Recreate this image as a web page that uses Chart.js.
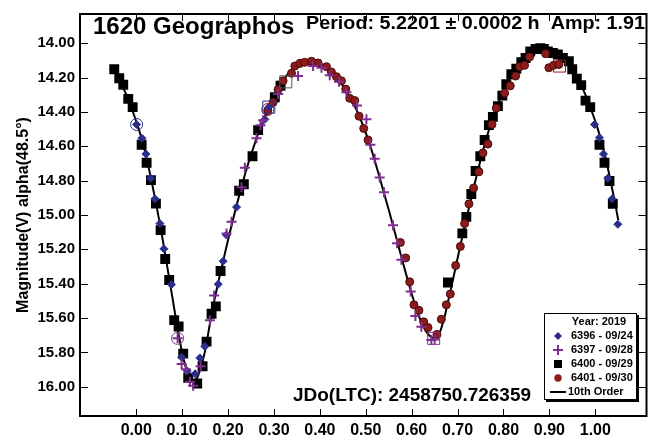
<!DOCTYPE html>
<html><head><meta charset="utf-8">
<script src="https://cdn.jsdelivr.net/npm/chart.js@4.4.0/dist/chart.umd.min.js"></script>
<style>html,body{margin:0;padding:0;background:#fff}#wrap{width:656px;height:436px}</style>
</head><body><div id="wrap"><canvas id="c" width="656" height="436"></canvas></div>
<script>
// ---- data ----
const titleText = '1620 Geographos';
const periodText = 'Period: 5.2201 \u00b1 0.0002 h  Amp: 1.91';
const jdText = 'JDo(LTC): 2458750.726359';
const yTitle = 'Magnitude(V) alpha(48.5\u00b0)';
const legendTitle = 'Year: 2019';
const seriesLabels = ['6396 - 09/24', '6397 - 09/28', '6400 - 09/29', '6401 - 09/30', '10th Order'];

const xTicks = [0.0, 0.1, 0.2, 0.3, 0.4, 0.5, 0.6, 0.7, 0.8, 0.9, 1.0];
const yTicks = [14.0, 14.2, 14.4, 14.6, 14.8, 15.0, 15.2, 15.4, 15.6, 15.8, 16.0];

const s6396X = [0.0009,0.0124,0.0211,0.0313,0.0407,0.0516,0.0603,0.0766,0.0988,0.1110,0.1284,0.1386,0.1495,0.1785,0.1893,0.1967,0.2185,0.2801,0.2888,0.9983,1.0091,1.0178,1.0272,1.0368,1.0490];
const s6396Y = [14.473,14.553,14.645,14.786,14.906,15.050,15.197,15.405,15.828,15.908,15.924,15.832,15.765,15.403,15.269,15.117,14.954,14.443,14.372,14.473,14.550,14.645,14.786,14.906,15.054];

const s6397X = [0.0901,0.0988,0.1082,0.1169,0.1240,0.1402,0.1604,0.1697,0.1967,0.2076,0.2294,0.2366,0.2620,0.2707,0.2764,0.3090,0.3525,0.3852,0.4035,0.4215,0.4418,0.4579,0.4810,0.5014,0.5101,0.5195,0.5304,0.5397,0.5593,0.5680,0.5776,0.5978,0.6081,0.6211,0.6429,0.6500];
const s6397Y = [15.718,15.867,15.898,15.970,15.994,15.880,15.612,15.469,15.107,15.040,14.839,14.725,14.553,14.477,14.448,14.295,14.191,14.133,14.143,14.187,14.225,14.286,14.362,14.443,14.591,14.672,14.782,14.868,15.059,15.164,15.260,15.446,15.588,15.651,15.727,15.725];

const s6400X = [-0.0479,-0.0370,-0.0283,-0.0174,-0.0078,0.0118,0.0226,0.0320,0.0429,0.0531,0.0631,0.0718,0.0827,0.0923,0.1023,0.1132,0.1328,0.1445,0.1532,0.1641,0.1734,0.1837,0.2242,0.2344,0.2533,0.2655,0.3019,0.3143,0.6790,0.7103,0.7190,0.7299,0.7393,0.7495,0.7589,0.7682,0.7769,0.7878,0.7974,0.8061,0.8170,0.8279,0.8388,0.8481,0.8583,0.8699,0.8801,0.8879,0.8966,0.9075,0.9184,0.9293,0.9423,0.9497,0.9597,0.9693,0.9787,0.9889,1.0091,1.0200,1.0309,1.0381];
const s6400Y = [14.152,14.204,14.242,14.324,14.372,14.591,14.696,14.797,14.934,15.088,15.256,15.378,15.612,15.649,15.807,15.947,15.981,15.880,15.737,15.575,15.532,15.326,14.859,14.821,14.658,14.506,14.315,14.248,15.393,15.107,15.011,14.878,14.744,14.658,14.563,14.477,14.429,14.366,14.305,14.238,14.181,14.149,14.111,14.086,14.048,14.034,14.029,14.034,14.048,14.057,14.066,14.086,14.105,14.152,14.206,14.244,14.334,14.372,14.591,14.696,14.802,14.935];

const s6401X = [0.2866,0.2982,0.3090,0.3199,0.3382,0.3454,0.3563,0.3671,0.3817,0.3961,0.4144,0.4252,0.4361,0.4470,0.4564,0.4651,0.4760,0.4853,0.4955,0.5049,0.5754,0.5869,0.5957,0.6050,0.6159,0.6261,0.6355,0.6551,0.6646,0.6755,0.6842,0.6958,0.7060,0.7153,0.7247,0.7349,0.7465,0.7552,0.7660,0.7748,0.7843,0.8024,0.8148,0.8263,0.8350,0.8459,0.8568,0.8916,0.8988,0.9090,0.9206];
const s6401Y = [14.392,14.344,14.270,14.219,14.175,14.133,14.118,14.111,14.105,14.115,14.137,14.168,14.195,14.219,14.267,14.321,14.334,14.425,14.496,14.563,15.160,15.250,15.389,15.523,15.555,15.622,15.655,15.695,15.607,15.523,15.460,15.294,15.183,15.050,14.935,14.843,14.748,14.639,14.587,14.473,14.378,14.290,14.248,14.191,14.137,14.129,14.080,14.061,14.143,14.129,14.124];

// first point of each session (open markers)
const start6396X = [0.0009, 0.2888];
const start6396Y = [14.473, 14.372];
const start6397X = [0.0901, 0.6479];
const start6397Y = [15.718, 15.718];
const start6400X = [0.3258];
const start6400Y = [14.225];
const start6401X = [0.2866, 0.9221];
const start6401Y = [14.386, 14.133];

const fitX = [-0.05,-0.04,-0.03,-0.02,-0.01,0.00,0.01,0.02,0.03,0.04,0.05,0.06,0.07,0.08,0.09,0.10,0.11,0.12,0.13,0.14,0.15,0.16,0.17,0.18,0.19,0.20,0.21,0.22,0.23,0.24,0.25,0.26,0.27,0.28,0.29,0.30,0.31,0.32,0.33,0.34,0.35,0.36,0.37,0.38,0.39,0.40,0.41,0.42,0.43,0.44,0.45,0.46,0.47,0.48,0.49,0.50,0.51,0.52,0.53,0.54,0.55,0.56,0.57,0.58,0.59,0.60,0.61,0.62,0.63,0.64,0.65,0.66,0.67,0.68,0.69,0.70,0.71,0.72,0.73,0.74,0.75,0.76,0.77,0.78,0.79,0.80,0.81,0.82,0.83,0.84,0.85,0.86,0.87,0.88,0.89,0.90,0.91,0.92,0.93,0.94,0.95,0.96,0.97,0.98,0.99,1.00,1.01,1.02,1.03,1.04,1.05];
const fitY = [14.145,14.195,14.250,14.310,14.380,14.455,14.540,14.640,14.760,14.890,15.030,15.180,15.340,15.500,15.660,15.800,15.905,15.960,15.960,15.895,15.790,15.640,15.500,15.375,15.260,15.145,15.035,14.930,14.830,14.735,14.650,14.570,14.495,14.430,14.370,14.315,14.265,14.220,14.180,14.150,14.130,14.118,14.110,14.107,14.110,14.118,14.132,14.152,14.178,14.210,14.248,14.290,14.336,14.390,14.452,14.522,14.600,14.688,14.780,14.875,14.970,15.068,15.168,15.268,15.365,15.458,15.545,15.618,15.672,15.705,15.715,15.690,15.610,15.495,15.375,15.252,15.130,15.012,14.898,14.788,14.680,14.580,14.490,14.410,14.340,14.278,14.222,14.172,14.130,14.095,14.067,14.046,14.034,14.030,14.033,14.042,14.055,14.070,14.088,14.112,14.145,14.195,14.250,14.310,14.380,14.455,14.540,14.640,14.760,14.890,15.030];

// ---- styles ----
const NAVY = '#2B2F8C', PURPLE = '#7E2E90', RED = '#8E1B1B', REDB = '#4A0A0A', BLACK = '#000000';
const FONT = '"Liberation Sans", Arial, Helvetica, sans-serif';

const pts = (xs, ys) => xs.map((v, i) => ({x: v, y: ys[i]}));

const datasets = [
  {label: seriesLabels[1], data: pts(s6397X, s6397Y), pointStyle: 'cross', radius: 5, borderColor: PURPLE, borderWidth: 2, backgroundColor: PURPLE, order: 1},
  {label: seriesLabels[0], data: pts(s6396X, s6396Y), pointStyle: 'rectRot', radius: 4, borderColor: NAVY, borderWidth: 1, backgroundColor: NAVY, order: 2},
  {label: seriesLabels[3], data: pts(s6401X, s6401Y), pointStyle: 'circle', radius: 4, borderColor: REDB, borderWidth: 1, backgroundColor: RED, order: 3},
  {label: seriesLabels[2], data: pts(s6400X, s6400Y), pointStyle: 'rect', radius: 7, borderColor: BLACK, borderWidth: 0, backgroundColor: BLACK, order: 4},
  {label: 'start 6396', data: pts(start6396X, start6396Y), pointStyle: ['circle', 'rect'], radius: [6, 8.5], borderColor: NAVY, borderWidth: 1, backgroundColor: 'rgba(0,0,0,0)', order: 0},
  {label: 'start 6397', data: pts(start6397X, start6397Y), pointStyle: ['circle', 'rect'], radius: [6, 8.5], borderColor: PURPLE, borderWidth: 1, backgroundColor: 'rgba(0,0,0,0)', order: 0},
  {label: 'start 6400', data: pts(start6400X, start6400Y), pointStyle: 'rect', radius: 8.5, borderColor: '#555', borderWidth: 1, backgroundColor: 'rgba(0,0,0,0)', order: 0},
  {label: 'start 6401', data: pts(start6401X, start6401Y), pointStyle: ['circle', 'rect'], radius: [6, 8.5], borderColor: RED, borderWidth: 1, backgroundColor: 'rgba(0,0,0,0)', order: 0},
  {label: seriesLabels[4], data: pts(fitX, fitY), showLine: true, pointRadius: 0, borderColor: BLACK, borderWidth: 2, tension: 0.3, order: 10}
];

const legendRows = [
  {text: seriesLabels[0], kind: 'diamond', color: NAVY},
  {text: seriesLabels[1], kind: 'plus', color: PURPLE},
  {text: seriesLabels[2], kind: 'square', color: BLACK},
  {text: seriesLabels[3], kind: 'circle', color: RED},
  {text: seriesLabels[4], kind: 'line', color: BLACK}
];

// draw text fitted between left and right x (horizontally stretched)
function fitText(ctx, text, left, right, baseline, size) {
  ctx.save();
  ctx.font = 'bold ' + size + 'px ' + FONT;
  ctx.textAlign = 'left';
  ctx.textBaseline = 'alphabetic';
  const w = ctx.measureText(text).width;
  ctx.translate(left, baseline);
  ctx.scale((right - left) / w, 1);
  ctx.fillText(text, 0, 0);
  ctx.restore();
}

const decor = {
  id: 'decor',
  afterDraw(chart) {
    const {ctx, chartArea: a, scales: {x, y}} = chart;
    ctx.save();
    // frame
    ctx.strokeStyle = '#000';
    ctx.lineWidth = 2;
    ctx.strokeRect(a.left, a.top, a.right - a.left, a.bottom - a.top);
    // inward ticks
    ctx.lineWidth = 1;
    ctx.beginPath();
    xTicks.forEach(v => {
      const px = Math.round(x.getPixelForValue(v)) + 0.5;
      ctx.moveTo(px, a.bottom); ctx.lineTo(px, a.bottom - 7);
      ctx.moveTo(px, a.top); ctx.lineTo(px, a.top + 7);
    });
    yTicks.forEach(v => {
      const py = Math.round(y.getPixelForValue(v)) + 0.5;
      ctx.moveTo(a.left, py); ctx.lineTo(a.left + 8, py);
      ctx.moveTo(a.right, py); ctx.lineTo(a.right - 8, py);
    });
    ctx.stroke();

    // titles
    ctx.fillStyle = '#000';
    ctx.textBaseline = 'alphabetic';
    ctx.textAlign = 'left';
    ctx.font = 'bold 24px ' + FONT;
    ctx.fillText(titleText, 93, 34);
    fitText(ctx, periodText, 306, 645, 29, 17.5);
    fitText(ctx, jdText, 293, 531, 401, 18);

    // legend box
    const bx = 544, by = 313, bw = 93, bh = 87;
    ctx.fillStyle = '#000';
    ctx.fillRect(bx + 2, by + 2, bw, bh);
    ctx.fillStyle = '#fff';
    ctx.fillRect(bx, by, bw, bh);
    ctx.strokeStyle = '#000';
    ctx.lineWidth = 1;
    ctx.strokeRect(bx + 0.5, by + 0.5, bw - 1, bh - 1);

    ctx.fillStyle = '#000';
    ctx.font = 'bold 11px ' + FONT;
    ctx.textBaseline = 'middle';
    ctx.textAlign = 'center';
    ctx.fillText(legendTitle, 599, 322);
    ctx.textAlign = 'left';
    legendRows.forEach((r, i) => {
      const cy = 336 + i * 14;
      const mx = 558;
      ctx.fillStyle = r.color; ctx.strokeStyle = r.color;
      if (r.kind === 'diamond') {
        ctx.beginPath(); ctx.moveTo(mx, cy - 4); ctx.lineTo(mx + 4, cy); ctx.lineTo(mx, cy + 4); ctx.lineTo(mx - 4, cy); ctx.closePath(); ctx.fill();
      } else if (r.kind === 'plus') {
        ctx.lineWidth = 2; ctx.beginPath(); ctx.moveTo(mx - 5, cy); ctx.lineTo(mx + 5, cy); ctx.moveTo(mx, cy - 5); ctx.lineTo(mx, cy + 5); ctx.stroke();
      } else if (r.kind === 'square') {
        ctx.fillRect(mx - 4, cy - 4, 8, 8);
      } else if (r.kind === 'circle') {
        ctx.beginPath(); ctx.arc(mx, cy, 3.7, 0, Math.PI * 2); ctx.fill();
      } else {
        ctx.lineWidth = 2; ctx.beginPath(); ctx.moveTo(550, cy); ctx.lineTo(566, cy); ctx.stroke();
      }
      ctx.fillStyle = '#000';
      ctx.fillText(r.text, r.kind === 'line' ? 568 : 571, cy);
    });
    ctx.restore();
  }
};

new Chart(document.getElementById('c'), {
  type: 'scatter',
  data: {datasets},
  options: {
    responsive: false,
    animation: false,
    devicePixelRatio: 1,
    layout: {padding: {left: 0, top: 7, right: 9, bottom: 0}},
    plugins: {legend: {display: false}, tooltip: {enabled: false}},
    elements: {line: {fill: false}},
    scales: {
      x: {
        type: 'linear', min: -0.1225, max: 1.1115,
        grid: {display: false, drawTicks: false},
        border: {display: false},
        ticks: {padding: 5, color: '#000', font: {family: FONT, size: 16, weight: 'bold'}, callback: v => Number(v).toFixed(2)},
        afterBuildTicks: s => { s.ticks = xTicks.map(v => ({value: v})); },
        afterFit: s => { s.height = 20; }
      },
      y: {
        type: 'linear', reverse: true, min: 13.83, max: 16.17,
        grid: {display: false, drawTicks: false},
        border: {display: false},
        ticks: {padding: 5, color: '#000', font: {family: FONT, size: 15, weight: 'bold'}, callback: v => Number(v).toFixed(2)},
        title: {display: true, text: yTitle, color: '#000', font: {family: FONT, size: 16, weight: 'bold'}, padding: {top: 14, bottom: 0}},
        afterBuildTicks: s => { s.ticks = yTicks.map(v => ({value: v})); },
        afterFit: s => { s.width = 80; }
      }
    }
  },
  plugins: [decor]
});
</script></body></html>
